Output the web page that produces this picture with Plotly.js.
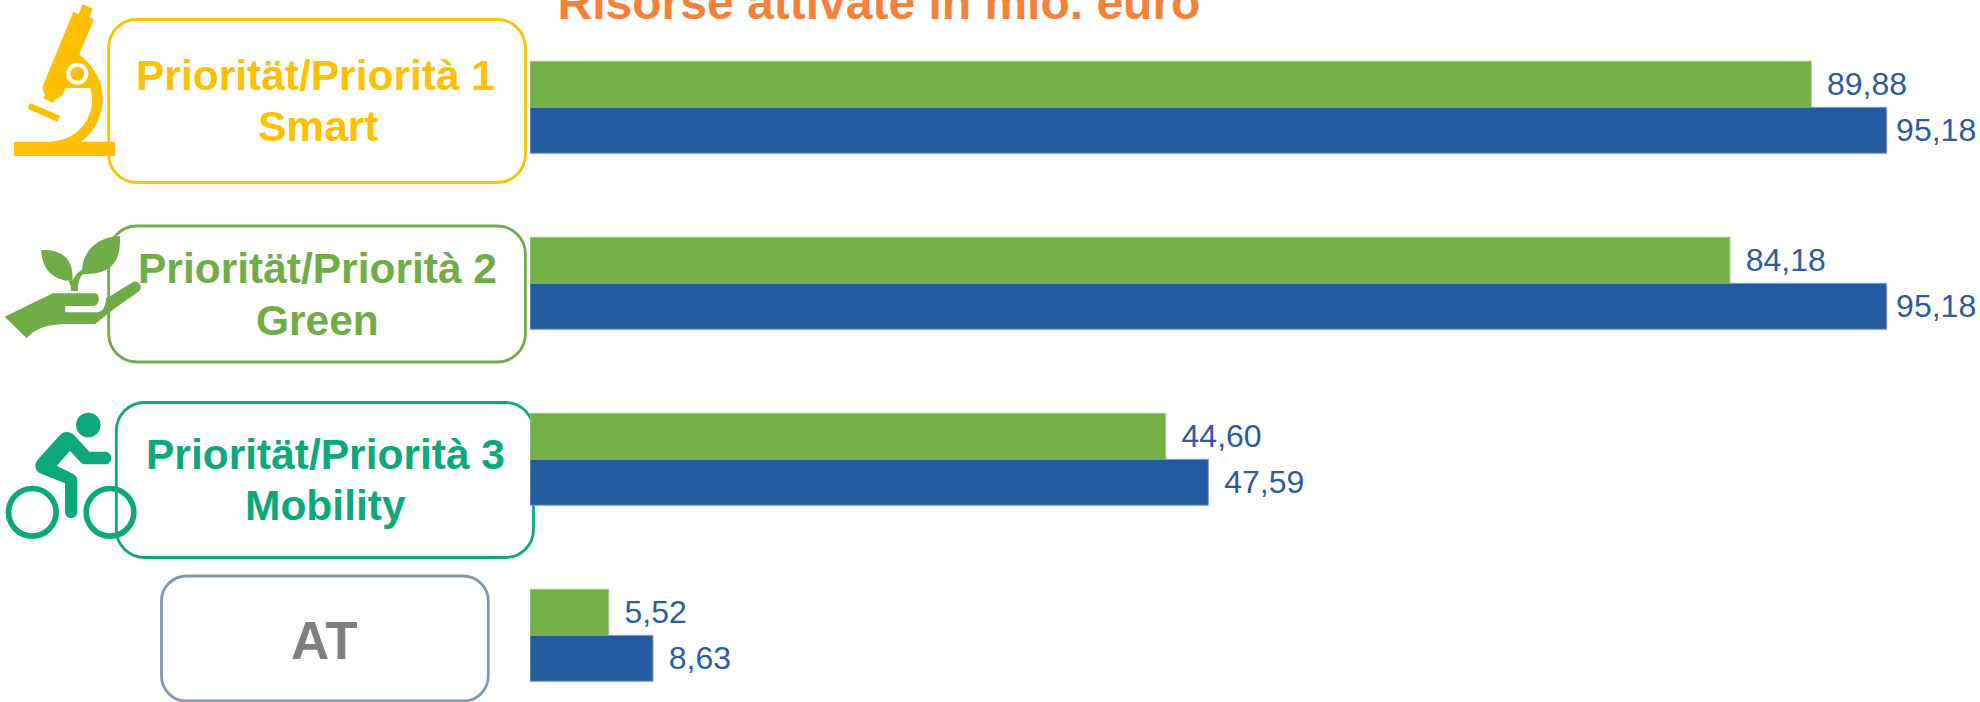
<!DOCTYPE html>
<html><head><meta charset="utf-8">
<script src="https://cdn.plot.ly/plotly-3.0.1.min.js"></script>
<style>html,body{margin:0;padding:0;background:#fff;overflow:hidden}#c{width:1980px;height:702px}</style>
</head><body><div id="c"></div>
<script>
const categories = ["Priorität/Priorità 1 Smart","Priorität/Priorità 2 Green","Priorität/Priorità 3 Mobility","AT"];
const greenValues = [89.88,84.18,44.60,5.52];
const blueValues = [95.18,95.18,47.59,8.63];
const titleText = "Risorse attivate in mio. euro";
const W=1980,H=702;
const GREEN="#72AF44",BLUE="#245A9F",LABEL="#2B5C9F",YEL="#FFC000",G2="#70AD47",TEAL="#0BA87C",SLATE="#8497B0",GREY="#7F7F7F";

const fx=x=>x/W, fy=y=>1-y/H;
function box(x0,y0,x1,y1,r,color,w){
  const c=r*0.45;
  const p=(x,y)=>fx(x)+","+fy(y);
  const d="M"+p(x0+r,y0)+" L"+p(x1-r,y0)+" C"+p(x1-c,y0)+" "+p(x1,y0+c)+" "+p(x1,y0+r)+
    " L"+p(x1,y1-r)+" C"+p(x1,y1-c)+" "+p(x1-c,y1)+" "+p(x1-r,y1)+
    " L"+p(x0+r,y1)+" C"+p(x0+c,y1)+" "+p(x0,y1-c)+" "+p(x0,y1-r)+
    " L"+p(x0,y0+r)+" C"+p(x0,y0+c)+" "+p(x0+c,y0)+" "+p(x0+r,y0)+" Z";
  return {type:"path",xref:"paper",yref:"paper",path:d,line:{color:color,width:w},fillcolor:"rgba(0,0,0,0)",layer:"below"};
}
// icon outlines are traced in crop space (3x) and moved to page space
function icon(str,ox,oy,color){
  const d=str.replace(/(-?[\d.]+),(-?[\d.]+)/g,(m,a,b)=>fx(ox+a/3)+","+fy(oy+b/3));
  return {type:"path",xref:"paper",yref:"paper",path:d,fillcolor:color,line:{width:0},layer:"below"};
}
function ring(cx,cy,r,color,w,fill){
  return {type:"circle",xref:"paper",yref:"paper",x0:fx(cx-r),x1:fx(cx+r),y0:fy(cy+r),y1:fy(cy-r),
    line:{color:color,width:w},fillcolor:fill||"rgba(0,0,0,0)",layer:"below"};
}
const shapes=[
  box(108.7,19.5,525.4,182.5,28,YEL,2.8),
  box(108.7,226,525.4,362,28,G2,2.8),
  box(116.3,402.5,533.5,557.5,28,TEAL,2.8),
  box(161.5,576,488.3,701,25,SLATE,2.8),
  // microscope
  icon("M248,12 L278,26 L268,52 L282,58 L238,163 C280,195 308,245 308,295 C308,350 282,400 243,425 L345,425 L345,468 L42,468 L42,425 L145,425 C220,425 276,370 276,300 C276,288 274,275 271,264 L196,264 C192,282 180,295 167,297 L160,309 L130,295 L136,283 C126,275 126,262 132,250 L220,35 L236,42 Z",0,0,YEL),
  icon("M90,309 L180,347 L172,365 L83,326 Z",0,0,YEL),
  ring(77.3,73.7,9,"#ffffff",4,YEL),
  // hand and plant
  icon("M124,60 C165,58 210,70 217,128 L218,152 C175,155 125,130 124,60 Z",0,230,G2),
  icon("M360,18 C362,75 350,130 262,132 L247,133 C240,80 280,20 360,18 Z",0,230,G2),
  icon("M205,152 L218,152 C222,140 235,125 248,118 L250,132 C240,140 233,155 234,183 L213,183 C213,170 210,160 205,152 Z",0,230,G2),
  icon("M14,260 L158,190 L285,190 C300,190 302,225 282,228 L196,228 L196,247 L290,247 C310,247 318,225 318,205 L328,200 L400,155 C415,150 430,170 418,183 L345,235 L285,282 L190,282 C140,285 105,295 80,325 Z",0,230,G2),
  // cyclist
  ring(88.3,425,12.3,TEAL,0,TEAL),
  icon("M180,90 C190,78 210,78 222,90 L268,140 L315,140 C340,140 340,178 315,178 L258,178 C250,178 245,175 240,170 L210,137 L170,183 L220,207 C228,212 232,218 232,225 L232,322 C232,345 195,345 195,322 L195,235 L120,205 C105,198 100,178 115,162 Z",0,405,TEAL),
  ring(32.3,512.3,23.8,TEAL,5.7),
  ring(110,512.3,23.8,TEAL,5.7)
];
const labelLines=[["Priorität/Priorità 1","Smart"],["Priorität/Priorità 2","Green"],["Priorität/Priorità 3","Mobility"],["AT"]];
const labelCols=[YEL,G2,TEAL,GREY];
const labelX=[[315,318],[317,317],[325,325.3],[324.3]];
const labelBase=[[90.7,141.7],[284,335.7],[469.3,520.7],[659]];
const annotations=[];
labelLines.forEach((ls,i)=>ls.forEach((t,j)=>{
  const size=i===3?53:42.5;
  annotations.push({xref:"paper",yref:"paper",x:fx(labelX[i][j]),y:fy(labelBase[i][j]-size*0.358),xanchor:"center",yanchor:"middle",
    showarrow:false,text:"<b>"+t+"</b>",font:{family:"Liberation Sans",size:size,color:labelCols[i]}});
}));
const lab=v=>(v>95?"\u2009":"\u2009\u2009")+v.toFixed(2).replace(".",",");
const bar=(x,color,lc)=>({type:"bar",orientation:"h",x:x,y:categories,
  marker:{color:color,line:{color:lc,width:1}},
  text:x.map(lab),textposition:"outside",cliponaxis:false,constraintext:"none",
  textfont:{family:"Liberation Sans",size:32,color:LABEL},hoverinfo:"x+y",showlegend:false});
const traces=[bar(greenValues,GREEN,"#9CC683"),bar(blueValues,BLUE,"#7F9FCB")];
const pxPerUnit=(1886.7-530)/95.18;
const layout={width:W,height:H,margin:{l:0,r:0,t:0,b:0,pad:0},paper_bgcolor:"#fff",plot_bgcolor:"rgba(0,0,0,0)",
  separators:",.",barmode:"group",bargap:1-92/176,bargroupgap:0,showlegend:false,
  title:{text:"<b>"+titleText+"</b>",font:{family:"Liberation Sans",size:48,color:"#F4803A"},x:879/W,xanchor:"center",xref:"container",y:1-19/H,yanchor:"bottom",yref:"container",pad:{t:0,b:0,l:0,r:0}},
  xaxis:{visible:false,domain:[530/W,1],range:[0,(W-530)/pxPerUnit],fixedrange:true},
  yaxis:{visible:false,type:"category",categoryorder:"array",categoryarray:categories,
    range:[(H-107.3)/176,-107.3/176],fixedrange:true},
  shapes:shapes,annotations:annotations};
Plotly.newPlot("c",traces,layout,{displayModeBar:false,staticPlot:true});
</script></body></html>
